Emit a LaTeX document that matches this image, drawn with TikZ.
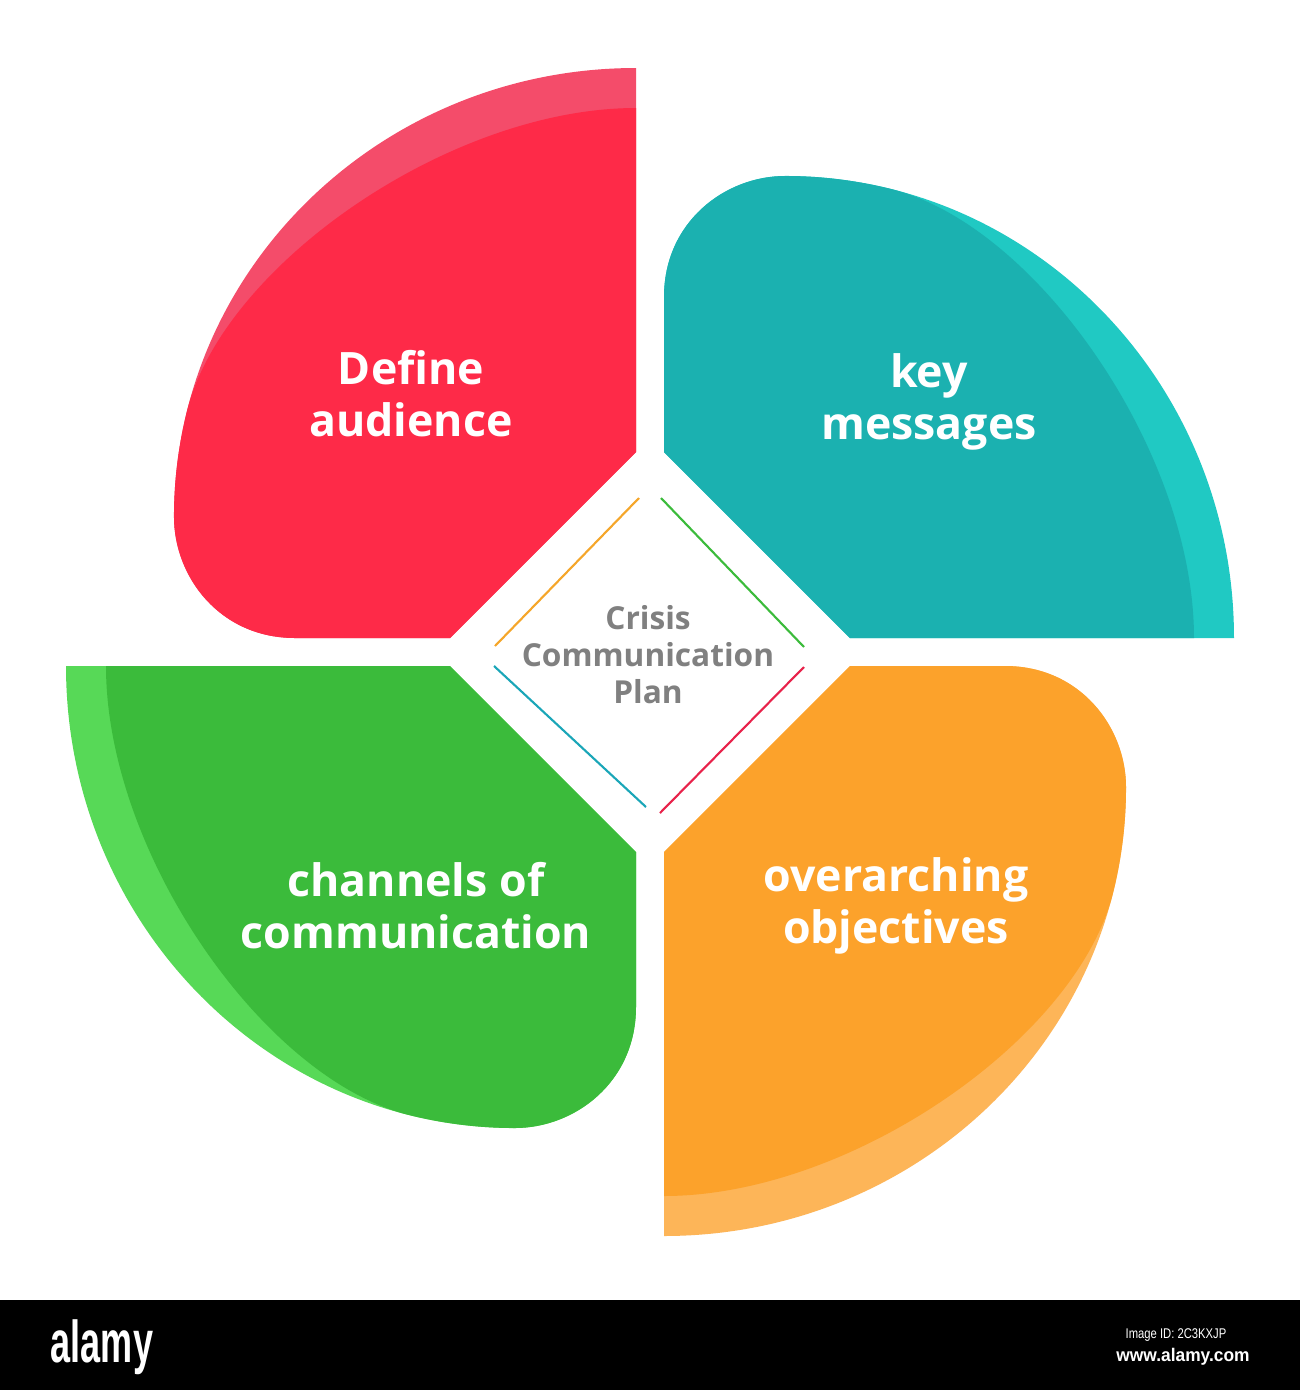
\documentclass[tikz,border=0pt]{standalone}
\usepackage{fontspec}
\setmainfont{Open Sans}
\newfontfamily\logofont{Liberation Sans}
\usepackage{graphicx}
\usepackage{tikz}
\usetikzlibrary{calc}
\definecolor{redrim}{RGB}{244,76,106}
\definecolor{redface}{RGB}{254,42,72}
\definecolor{tealrim}{RGB}{32,201,195}
\definecolor{tealface}{RGB}{27,177,176}
\definecolor{greenrim}{RGB}{87,217,87}
\definecolor{greenface}{RGB}{59,187,59}
\definecolor{orangerim}{RGB}{253,181,88}
\definecolor{orangeface}{RGB}{252,162,43}
\definecolor{hubgray}{RGB}{128,128,128}
\definecolor{orangeline}{RGB}{245,166,42}
\definecolor{greenline}{RGB}{59,187,59}
\definecolor{tealline}{RGB}{26,166,184}
\definecolor{redline}{RGB}{232,34,74}
\tikzset{
    petal text/.style={text=white, font=\bfseries\fontsize{12.7}{14.8}\selectfont, align=center, inner sep=0pt},
    hub text/.style={text=hubgray, font=\bfseries\fontsize{9}{10.5}\selectfont, align=center, inner sep=0pt},
    hub line/.style={line width=0.6pt},
    logo text/.style={text=white, font=\logofont, inner sep=0pt}}
% one petal, drawn as the top left one and turned round the hub
\newcommand{\drawpetal}[3]{%
  \begin{scope}[shift={(650,-652)}, rotate=#1]
    \fill[#2] (-14,584) arc[start angle=90, end angle=180, x radius=462, y radius=449]
      .. controls (-476,75) and (-430,14) .. (-355,14) -- (-200,14) -- (-14,200) -- cycle;
    \fill[#3] (-14,544) .. controls (-200,544) and (-426.5,386.9) .. (-462.95,241.3)
      arc[start angle=166.345, end angle=180, x radius=462, y radius=449]
      .. controls (-476,75) and (-430,14) .. (-355,14) -- (-200,14) -- (-14,200) -- cycle;
  \end{scope}}

\begin{document}
\begin{tikzpicture}[x=0.01cm, y=0.01cm]
\useasboundingbox (0,0) rectangle (1300,-1390);
\fill[white] (0,0) rectangle (1300,-1390);
%petals
\drawpetal{0}{redrim}{redface}
\drawpetal{-90}{tealrim}{tealface}
\drawpetal{180}{orangerim}{orangeface}
\drawpetal{90}{greenrim}{greenface}
%hub diamond
\coordinate (NWa) at (495,-646);
\coordinate (NWb) at (639,-498);
\coordinate (NEa) at (661,-498);
\coordinate (NEb) at (804,-647);
\coordinate (SWa) at (494,-666);
\coordinate (SWb) at (646,-807);
\coordinate (SEa) at (660,-813);
\coordinate (SEb) at (804,-667);
\draw[hub line, orangeline] (NWa) -- (NWb);
\draw[hub line, greenline] (NEa) -- (NEb);
\draw[hub line, tealline] (SWa) -- (SWb);
\draw[hub line, redline] (SEa) -- (SEb);
\node[hub text] (hub) at (648,-655) {Crisis\\Communication\\Plan};
%labels
\node[petal text] (audience) at (411,-394) {Define\\audience};
\node[petal text] (messages) at (929,-402) {key\\messages};
\node[petal text] (channels) at (416,-906) {channels of\\communication};
\node[petal text] (objectives) at (896,-906) {overarching\\objectives};
%strip
\fill[black] (0,-1300) rectangle (1300,-1390);
\node[logo text, font=\logofont\bfseries\fontsize{16.8}{16.8}\selectfont] (logo) at (102,-1347) {\scalebox{0.61}[1]{alamy}};
\node[logo text, anchor=base, font=\logofont\fontsize{4}{4}\selectfont] (imageid) at (1176,-1338) {\scalebox{0.8}[1]{Image ID: 2C3KXJP}};
\node[logo text, anchor=base, font=\logofont\bfseries\fontsize{5.2}{5.2}\selectfont] (site) at (1183,-1361) {\scalebox{0.95}[1]{www.alamy.com}};
\end{tikzpicture}
\end{document}
